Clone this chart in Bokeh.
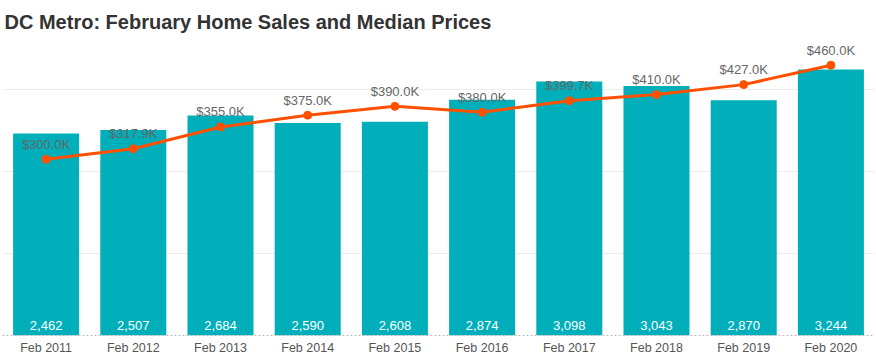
from bokeh.plotting import figure
from bokeh.models import ColumnDataSource, Range1d, FactorRange, LabelSet, Grid, FixedTicker
from bokeh.core.properties import value
from bokeh.embed import file_html
from bokeh.resources import INLINE

months = ["Feb 2011", "Feb 2012", "Feb 2013", "Feb 2014", "Feb 2015",
          "Feb 2016", "Feb 2017", "Feb 2018", "Feb 2019", "Feb 2020"]
sales = [2462, 2507, 2684, 2590, 2608, 2874, 3098, 3043, 2870, 3244]
prices_k = [300.0, 317.9, 355.0, 375.0, 390.0, 380.0, 399.7, 410.0, 427.0, 460.0]

src = ColumnDataSource(dict(
    month=months,
    sales=sales,
    sales_label=[f"{v:,}" for v in sales],
    price=prices_k,
    price_label=[f"${v:.1f}K" for v in prices_k],
))

FONT = "Liberation Sans"

p = figure(width=876, height=360, x_range=FactorRange(*months, range_padding=0),
           y_range=Range1d(0, 3622), output_backend="svg", toolbar_location=None,
           y_axis_location=None, min_border_left=2, min_border_right=2,
           min_border_top=38, min_border_bottom=25)
p.extra_y_ranges = {"price": Range1d(0, 505.5)}

p.title.text = "DC Metro: February Home Sales and Median Prices"
p.title.text_font = FONT
p.title.text_font_size = "20px"
p.title.text_font_style = "bold"
p.title.text_color = "#333333"
p.title.align = "left"
p.title.offset = 2
p.title.standoff = 11

p.outline_line_color = None
p.xgrid.grid_line_color = None
grids = list(p.ygrid)
if not grids:
    g = Grid(dimension=1)
    p.add_layout(g)
    grids = [g]
for g in grids:
    g.ticker = FixedTicker(ticks=[1000, 2000, 3000])
    g.grid_line_color = "#ececec"
    g.grid_line_width = 1

p.xaxis.axis_line_color = "#bbbbbb"
p.xaxis.axis_line_dash = "2 2"
p.xaxis.major_tick_line_color = None
p.xaxis.minor_tick_line_color = None
p.xaxis.major_tick_out = 0
p.xaxis.major_tick_in = 0
p.xaxis.major_label_text_font = FONT
p.xaxis.major_label_text_font_size = "12.5px"
p.xaxis.major_label_text_color = "#555555"
p.xaxis.major_label_standoff = 5

p.vbar(x="month", top="sales", width=0.757, source=src, color="#00AFB9", line_color=None)

p.line(x="month", y="price", source=src, y_range_name="price", color="#FF5000", line_width=3)
p.scatter(x="month", y="price", source=src, y_range_name="price", color="#FF5000", size=8)

p.add_layout(LabelSet(x="month", y="price", text="price_label", source=src, y_range_name="price",
                      y_offset=15, text_align="center", text_baseline="middle",
                      text_font=value(FONT), text_font_size=value("13px"), text_color="#666666"))
p.add_layout(LabelSet(x="month", y=0, text="sales_label", source=src,
                      y_offset=10, text_align="center", text_baseline="middle",
                      text_font=value(FONT), text_font_size=value("13px"), text_color="#ffffff"))

open("out.html", "w").write(file_html(p, INLINE))
